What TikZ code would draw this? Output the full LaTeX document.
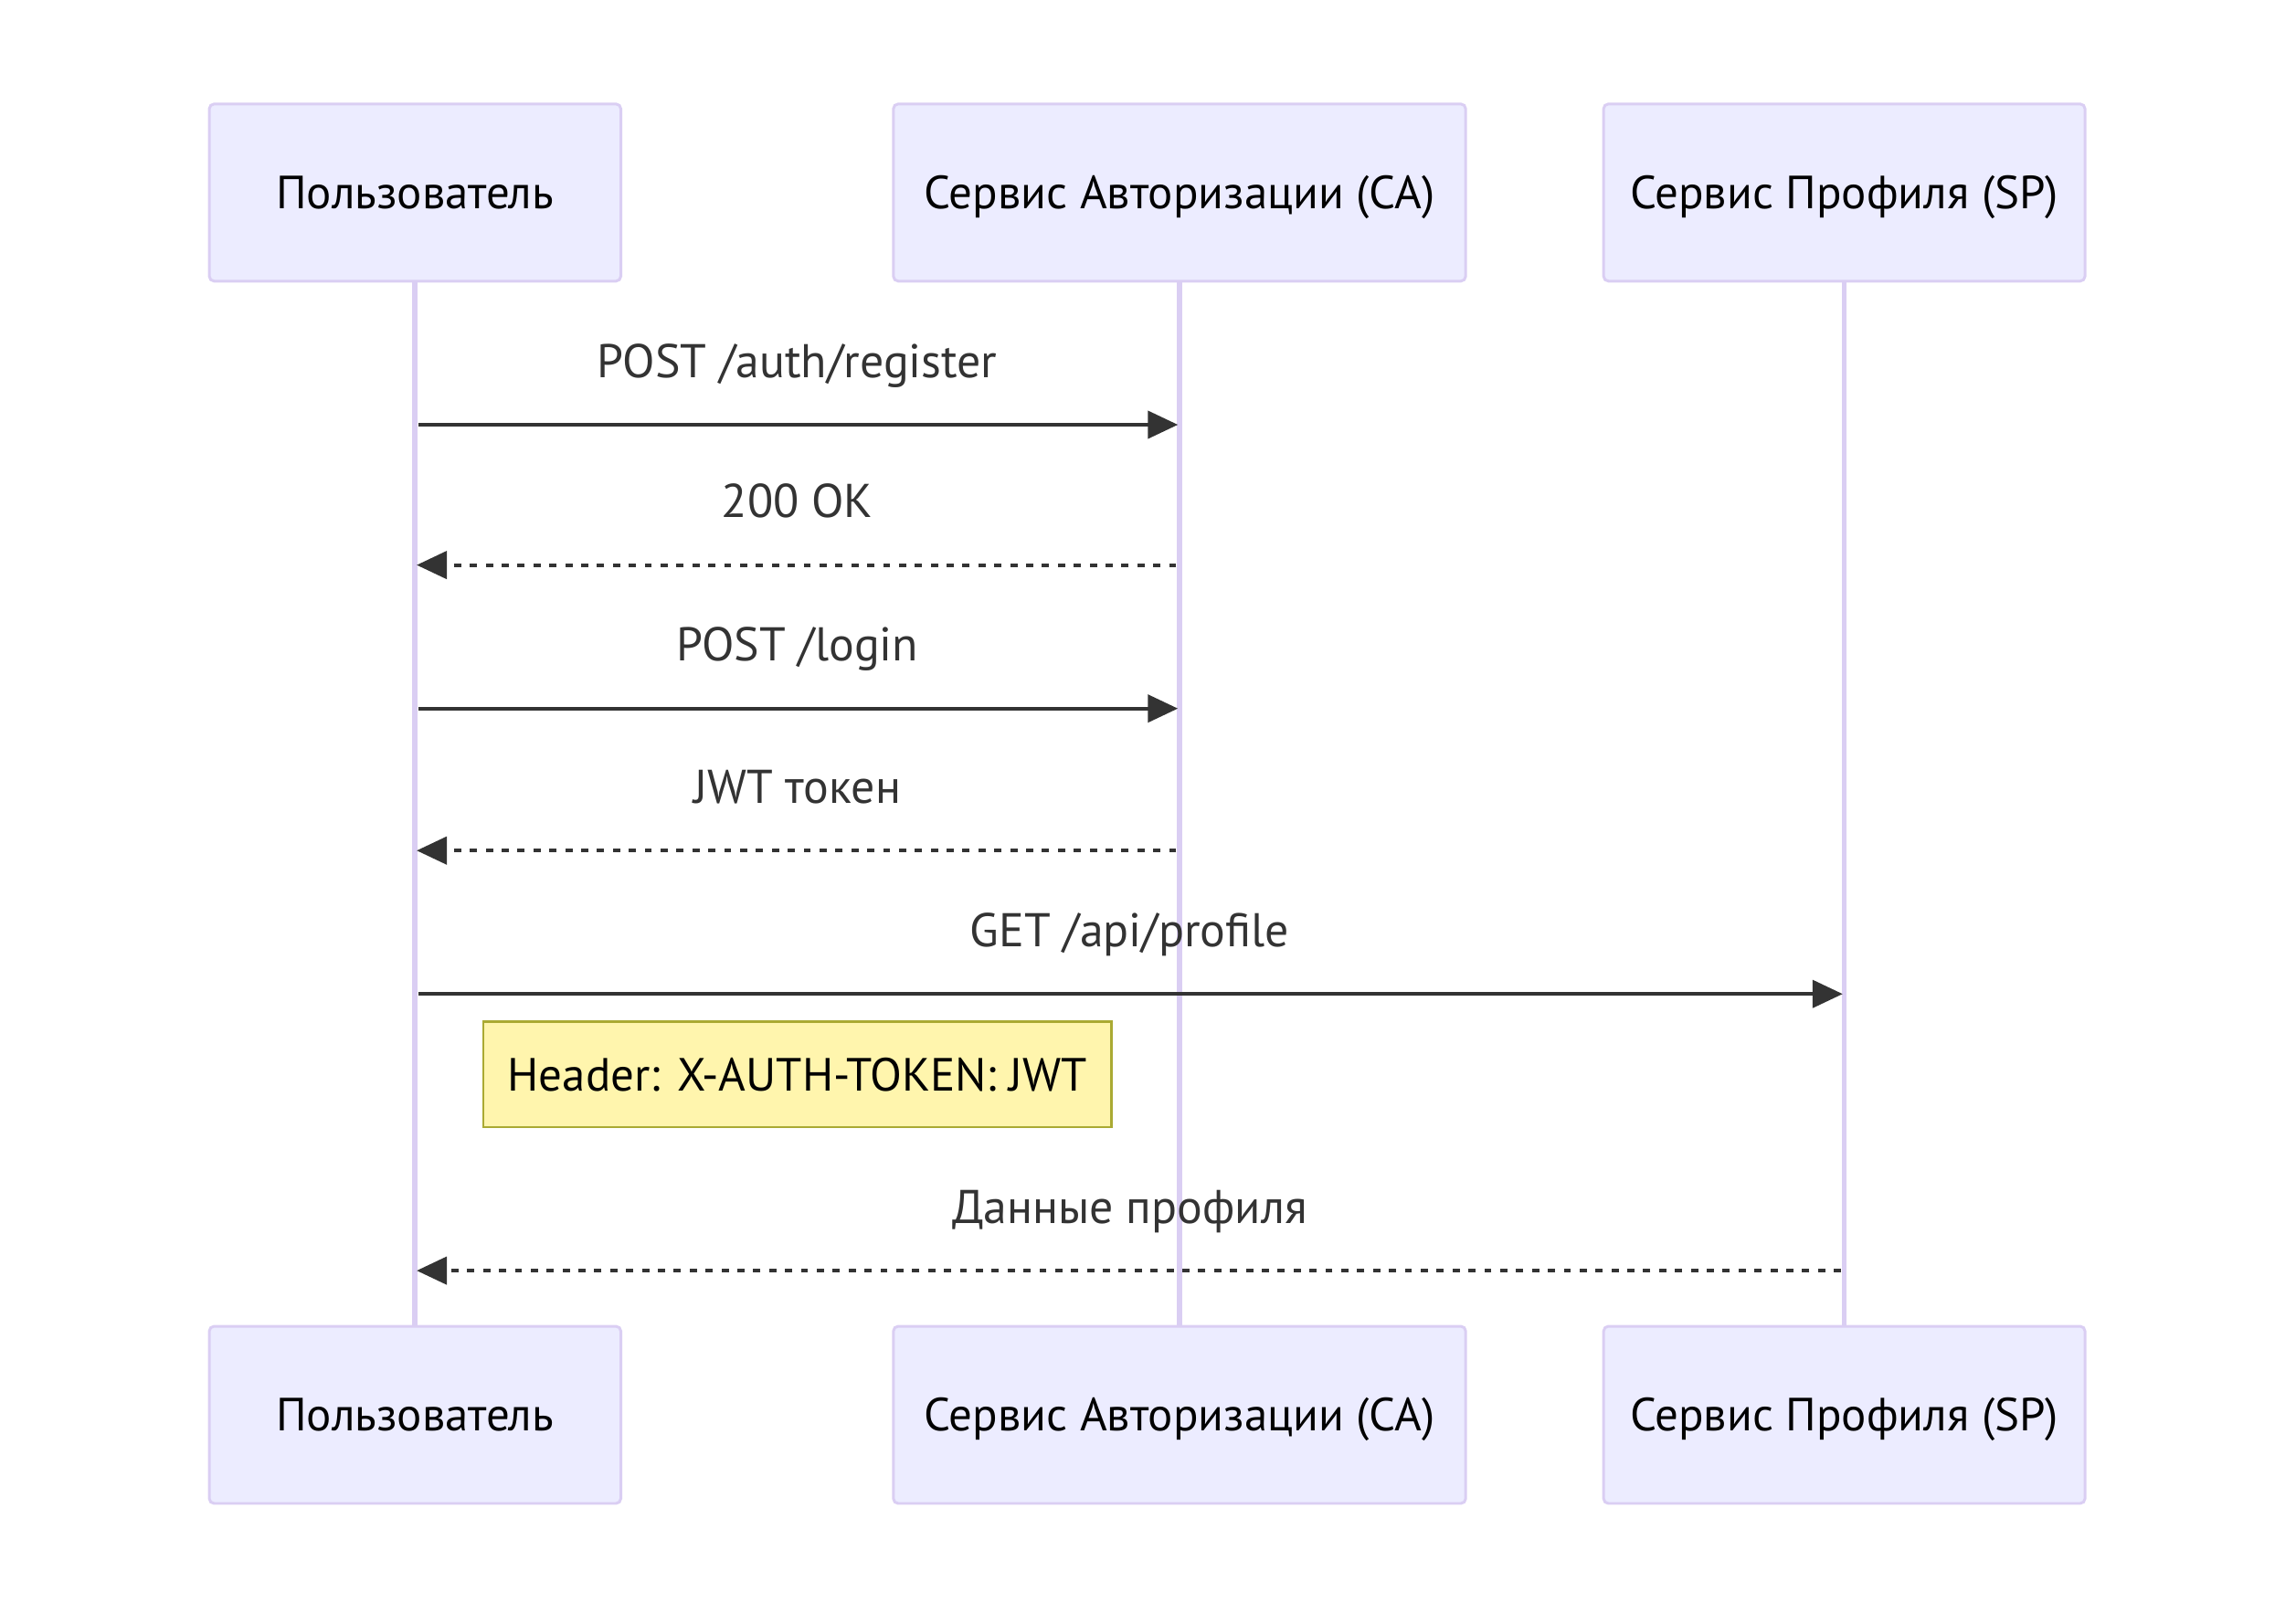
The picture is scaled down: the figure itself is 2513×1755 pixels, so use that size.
\documentclass[tikz,border=0pt]{standalone}
\usepackage{fontspec}
\setmainfont{PT Sans}
\usetikzlibrary{arrows.meta}

\definecolor{actorfill}{HTML}{ECECFF}
\definecolor{actorline}{HTML}{DACEF3}
\definecolor{msgline}{HTML}{333333}
\definecolor{notefill}{HTML}{FFF5AD}
\definecolor{noteline}{HTML}{AAAA33}

\begin{document}
\begin{tikzpicture}[x=0.02cm, y=-0.02cm, >={Triangle[length=0.66cm, width=0.6cm]},
  actor/.style={draw=actorline, fill=actorfill, line width=1.7pt, rounded corners=3pt,
    minimum height=3.88cm, text height=20pt, text depth=0pt,
    font=\fontsize{29}{33}\selectfont},
  lifeline/.style={actorline, line width=3.2pt},
  msg/.style={->, msgline, line width=2.4pt, shorten <=2pt, shorten >=1pt},
  reply/.style={msg, dash pattern=on 4.5pt off 5.4pt},
  lbl/.style={anchor=base, yshift=1.04cm, text=msgline, font=\fontsize{29.5}{33}\selectfont},
  note/.style={draw=noteline, fill=notefill, line width=1.5pt, inner sep=0pt,
    font=\fontsize{29}{33}\selectfont}]
  \useasboundingbox (0,0) rectangle (2513,1755);

  % Actors, top row
  \node[actor, minimum width=9.01cm]  (userT) at (454.3,210.8) {Пользователь};
  \node[actor, minimum width=12.53cm] (caT)   at (1291,210.8)  {Сервис Авторизации (CA)};
  \node[actor, minimum width=10.54cm] (spT)   at (2018.6,210.8) {Сервис Профиля (SP)};

  % Actors, bottom row
  \node[actor, minimum width=9.01cm]  (userB) at (454.3,1549) {Пользователь};
  \node[actor, minimum width=12.53cm] (caB)   at (1291,1549)  {Сервис Авторизации (CA)};
  \node[actor, minimum width=10.54cm] (spB)   at (2018.6,1549) {Сервис Профиля (SP)};

  % Lifelines
  \draw[lifeline] (userT) -- (userB);
  \draw[lifeline] (caT) -- (caB);
  \draw[lifeline] (spT) -- (spB);

  % Message end points on the lifelines
  \coordinate (u1) at (userT |- 0,465);   \coordinate (c1) at (caT |- 0,465);
  \coordinate (u2) at (userT |- 0,618.6); \coordinate (c2) at (caT |- 0,618.6);
  \coordinate (u3) at (userT |- 0,775.7); \coordinate (c3) at (caT |- 0,775.7);
  \coordinate (u4) at (userT |- 0,931.2); \coordinate (c4) at (caT |- 0,931.2);
  \coordinate (u5) at (userT |- 0,1088.2); \coordinate (s5) at (spT |- 0,1088.2);
  \coordinate (u6) at (userT |- 0,1391.1); \coordinate (s6) at (spT |- 0,1391.1);

  % Messages
  \draw[msg] (u1) -- (c1) node[lbl, midway] {POST /auth/register};
  \draw[reply] (c2) -- (u2) node[lbl, midway] {200 OK};
  \draw[msg] (u3) -- (c3) node[lbl, midway] {POST /login};
  \draw[reply] (c4) -- (u4) node[lbl, midway] {JWT токен};
  \draw[msg] (u5) -- (s5) node[lbl, midway] {GET /api/profile};

  % Note under the profile request
  \node[note, minimum width=13.75cm, minimum height=2.31cm] (hdr) at (872.8,1176.4)
    {Header: X-AUTH-TOKEN: JWT};

  \draw[reply] (s6) -- (u6) node[lbl, midway] {Данные профиля};
\end{tikzpicture}
\end{document}
